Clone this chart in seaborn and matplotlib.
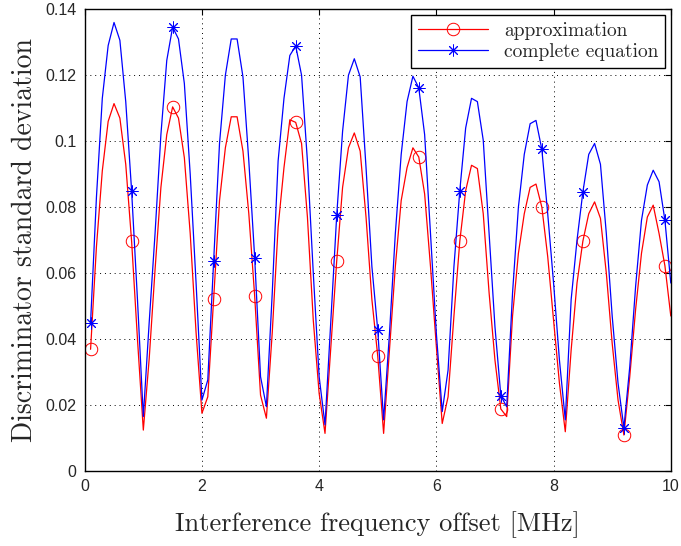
import numpy as np
import pandas as pd
import seaborn as sns
import matplotlib.pyplot as plt

# frequency offset samples [MHz]
freq = np.round(np.linspace(0.1, 10.0, 100), 1)

approximation = [
    0.0369, 0.068, 0.091, 0.106, 0.1114, 0.107, 0.093, 0.0697, 0.040, 0.0124,
    0.034, 0.061, 0.086, 0.102, 0.1104, 0.107, 0.095, 0.072, 0.042, 0.0175,
    0.0225, 0.0522, 0.082, 0.098, 0.1074, 0.1074, 0.097, 0.078, 0.053, 0.023,
    0.016, 0.042, 0.074, 0.092, 0.1065, 0.1057, 0.0993, 0.077, 0.0457, 0.0235,
    0.0114, 0.0377, 0.0637, 0.086, 0.098, 0.1025, 0.097, 0.077, 0.052, 0.0348,
    0.0114, 0.0367, 0.062, 0.082, 0.092, 0.098, 0.0952, 0.084, 0.062, 0.0377,
    0.0144, 0.0225, 0.047, 0.0697, 0.085, 0.0927, 0.0917, 0.078, 0.054, 0.0336,
    0.0188, 0.0165, 0.047, 0.066, 0.078, 0.086, 0.087, 0.080, 0.065, 0.0457,
    0.0266, 0.0119, 0.0367, 0.057, 0.0697, 0.078, 0.0816, 0.0766, 0.060, 0.0387,
    0.0215, 0.0109, 0.0286, 0.049, 0.066, 0.077, 0.0806, 0.072, 0.0622, 0.047,
]

complete = [
    0.045, 0.083, 0.113, 0.129, 0.136, 0.1306, 0.112, 0.085, 0.052, 0.0165,
    0.045, 0.072, 0.102, 0.1245, 0.1346, 0.131, 0.1175, 0.090, 0.057, 0.0215,
    0.0276, 0.0637, 0.0993, 0.120, 0.131, 0.131, 0.1195, 0.094, 0.0647, 0.0286,
    0.0195, 0.054, 0.094, 0.113, 0.126, 0.1289, 0.120, 0.094, 0.060, 0.0286,
    0.014, 0.0457, 0.0776, 0.103, 0.120, 0.125, 0.1195, 0.092, 0.062, 0.0427,
    0.0155, 0.0417, 0.072, 0.096, 0.112, 0.1197, 0.1162, 0.102, 0.072, 0.0417,
    0.018, 0.0306, 0.062, 0.085, 0.104, 0.113, 0.112, 0.1003, 0.072, 0.0437,
    0.0228, 0.0195, 0.054, 0.080, 0.096, 0.1053, 0.1063, 0.0975, 0.078, 0.057,
    0.0336, 0.0155, 0.052, 0.070, 0.0846, 0.096, 0.0993, 0.093, 0.072, 0.047,
    0.0266, 0.0131, 0.0316, 0.056, 0.076, 0.0867, 0.0912, 0.0877, 0.076, 0.057,
]

x_ticks = [0, 2, 4, 6, 8, 10]
y_ticks = [0, 0.02, 0.04, 0.06, 0.08, 0.1, 0.12, 0.14]
y_ticklabels = ['0', '0.02', '0.04', '0.06', '0.08', '0.1', '0.12', '0.14']

df = pd.DataFrame({'freq': freq, 'approximation': approximation, 'complete equation': complete})

sns.set_style('white')
plt.rcParams['xtick.direction'] = 'in'
plt.rcParams['ytick.direction'] = 'in'
plt.rcParams['xtick.top'] = True
plt.rcParams['ytick.right'] = True

fig = plt.figure(figsize=(6.81, 5.46), dpi=100)
ax = fig.add_axes([0.1244, 0.1374, 0.8606, 0.8456])

sns.lineplot(data=df, x='freq', y='approximation', color='#ff0000', lw=0.9,
             marker='o', markersize=9, markevery=7, mfc='none',
             label='approximation', ax=ax)
sns.lineplot(data=df, x='freq', y='complete equation', color='#0000ff', lw=0.9,
             marker=(8, 2, 0), markersize=8.5, markevery=7,
             label='complete equation', ax=ax)
for line in ax.lines:
    line.set_markeredgecolor(line.get_color())
    line.set_markeredgewidth(0.7)

ax.set_xlim(0, 10)
ax.set_ylim(0, 0.14)
ax.set_xticks(x_ticks)
ax.set_yticks(y_ticks)
ax.set_yticklabels(y_ticklabels)
ax.tick_params(length=4, width=0.8, color='black', labelsize=11.5, pad=6)
for lab in ax.get_xticklabels() + ax.get_yticklabels():
    lab.set_family('Liberation Sans')
ax.grid(True, linestyle=(0, (1, 4)), color='black', linewidth=0.7)
for s in ax.spines.values():
    s.set_color('black')
    s.set_linewidth(1)

ax.set_xlabel('Interference frequency offset [MHz]', family='cmr10', fontsize=19, labelpad=12)
ax.set_ylabel('Discriminator standard deviation', family='cmr10', fontsize=20, labelpad=5)

leg = ax.legend(loc='upper right', prop={'family': 'cmr10', 'size': 14}, fancybox=False,
                framealpha=1, edgecolor='black', borderaxespad=0.3, handlelength=3.6,
                labelspacing=0.15, borderpad=0.35)
leg.get_frame().set_linewidth(1)

fig.savefig('out.png', dpi=100)
